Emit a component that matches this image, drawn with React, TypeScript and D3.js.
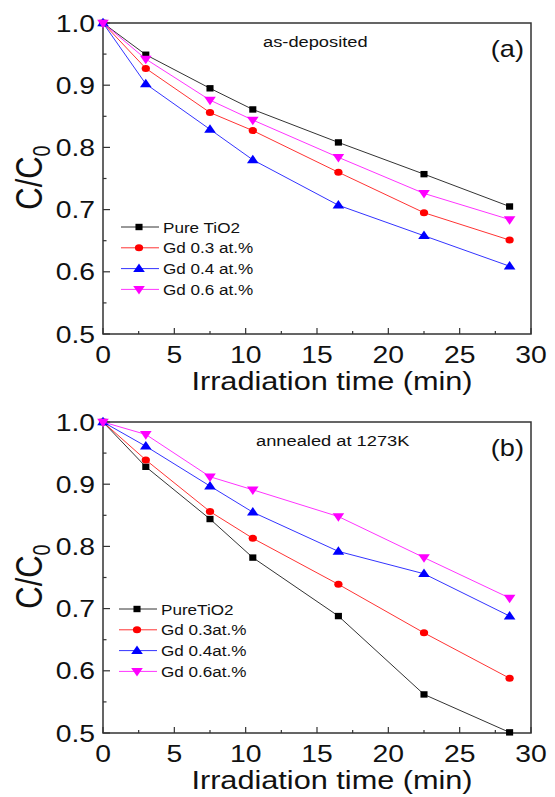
import React, { useEffect, useRef } from 'react';
import * as d3 from 'd3';

const times = [0, 3, 7.5, 10.5, 16.5, 22.5, 28.5];

// panel (a) as-deposited
const pureA = [1.0, 0.949, 0.895, 0.861, 0.808, 0.757, 0.705];
const gd03A = [1.0, 0.927, 0.856, 0.827, 0.760, 0.695, 0.651];
const gd04A = [1.0, 0.902, 0.829, 0.780, 0.707, 0.658, 0.609];
const gd06A = [1.0, 0.942, 0.876, 0.844, 0.784, 0.726, 0.684];

// panel (b) annealed
const pureB = [1.0, 0.928, 0.844, 0.782, 0.688, 0.562, 0.501];
const gd03B = [1.0, 0.939, 0.856, 0.813, 0.739, 0.661, 0.588];
const gd04B = [1.0, 0.961, 0.897, 0.855, 0.792, 0.756, 0.688];
const gd06B = [1.0, 0.980, 0.912, 0.891, 0.848, 0.782, 0.717];

const namesA = ['Pure TiO2', 'Gd 0.3 at.%', 'Gd 0.4 at.%', 'Gd 0.6 at.%'];
const namesB = ['PureTiO2', 'Gd 0.3at.%', 'Gd 0.4at.%', 'Gd 0.6at.%'];
const colors = ['#000000', '#ff0000', '#0000ff', '#ff00ff'];
const shapes = ['square', 'circle', 'triangle', 'down'];

const xTicks = [0, 5, 10, 15, 20, 25, 30];
const yTicks = [0.5, 0.6, 0.7, 0.8, 0.9, 1.0];

const FONT = '"Liberation Sans", Arial, sans-serif';
const SX = 1.18; // the figure is stretched a bit sideways

const App = () => {
  const svgRef = useRef<SVGSVGElement>(null);

  useEffect(() => {
    const svg = d3.select(svgRef.current);
    svg.selectAll('*').remove();

    const label = (g, x, y, str, size, anchor = 'start') =>
      g.append('text')
        .attr('transform', `translate(${x},${y}) scale(${SX},1)`)
        .attr('text-anchor', anchor).attr('font-size', size)
        .attr('font-family', FONT).attr('fill', '#111')
        .text(str);

    const drawMarker = (g, shape, cx, cy, color) => {
      const m = g.append('g').attr('transform', `translate(${cx},${cy}) scale(${SX},1)`);
      if (shape === 'square') {
        m.append('rect').attr('x', -3).attr('y', -3.2).attr('width', 6).attr('height', 6.4).attr('fill', color);
      } else if (shape === 'circle') {
        m.append('circle').attr('r', 3.5).attr('fill', color);
      } else {
        const sym = d3.symbol().type(d3.symbolTriangle).size(42);
        m.append('path')
          .attr('d', sym())
          .attr('transform', `translate(0,${shape === 'down' ? -0.5 : 0.5}) rotate(${shape === 'down' ? 180 : 0})`)
          .attr('fill', color);
      }
    };

    const panel = (top, series, names, note, noteX, tag, legY, legX) => {
      const left = 103, right = 531, bottom = top + 311;
      const x = d3.scaleLinear().domain([0, 30]).range([left, right]);
      const y = d3.scaleLinear().domain([0.5, 1.0]).range([bottom, top]);
      const g = svg.append('g');

      // minor + major ticks, inward
      d3.range(0, 30.01, 2.5).forEach((v, i) => {
        const major = i % 2 === 0;
        g.append('line').attr('x1', x(v)).attr('x2', x(v))
          .attr('y1', bottom).attr('y2', bottom - (major ? 6 : 3))
          .attr('stroke', '#333').attr('stroke-width', 1.2);
      });
      d3.range(0.5, 1.001, 0.05).forEach((v, i) => {
        const major = i % 2 === 0;
        g.append('line').attr('y1', y(v)).attr('y2', y(v))
          .attr('x1', left).attr('x2', left + (major ? 7 : 3.5))
          .attr('stroke', '#333').attr('stroke-width', 1.2);
      });

      g.append('rect').attr('x', left).attr('y', top)
        .attr('width', right - left).attr('height', bottom - top)
        .attr('fill', 'none').attr('stroke', '#333').attr('stroke-width', 1.5);

      xTicks.forEach(t => label(g, x(t), bottom + 29, String(t), 24, 'middle'));
      yTicks.forEach(t => label(g, left - 8, y(t) + 8.5, t.toFixed(1), 24, 'end'));

      label(g, 332, bottom + 56, 'Irradiation time (min)', 26, 'middle');

      const yl = g.append('text')
        .attr('transform', `translate(42,${(top + bottom) / 2 - 1}) scale(${SX},1) rotate(-90)`)
        .attr('text-anchor', 'middle').attr('font-size', 31).attr('font-family', FONT).attr('fill', '#111');
      yl.append('tspan').text('C/C');
      yl.append('tspan').attr('font-size', 20).attr('dy', 7).text('0');

      label(g, noteX, top + 23.5, note, 15.5);
      label(g, 524, top + 34, tag, 23, 'end');

      series.forEach((vals, i) => {
        const line = d3.line<number>().x((d, j) => x(times[j])).y(d => y(d));
        g.append('path').attr('d', line(vals)).attr('fill', 'none')
          .attr('stroke', colors[i]).attr('stroke-width', 1).attr('opacity', 0.8);
        vals.forEach((v, j) => drawMarker(g, shapes[i], x(times[j]), y(v), colors[i]));
      });

      // legend
      names.forEach((n, i) => {
        const ly = legY + i * 20.8;
        g.append('line').attr('x1', legX - 42).attr('x2', legX - 4).attr('y1', ly).attr('y2', ly)
          .attr('stroke', colors[i]).attr('stroke-width', 1).attr('opacity', 0.8);
        drawMarker(g, shapes[i], legX - 24, ly, colors[i]);
        label(g, legX, ly + 5.5, n, 14.5);
      });
    };

    panel(23, [pureA, gd03A, gd04A, gd06A], namesA, 'as-deposited', 263, '(a)', 227, 163);
    panel(422, [pureB, gd03B, gd04B, gd06B], namesB, 'annealed at 1273K', 256, '(b)', 609, 161);
  }, []);

  return (
    <svg ref={svgRef} width={555} height={797}
      style={{ position: 'absolute', left: 0, top: 0, background: '#fff' }} />
  );
};

export default App;
